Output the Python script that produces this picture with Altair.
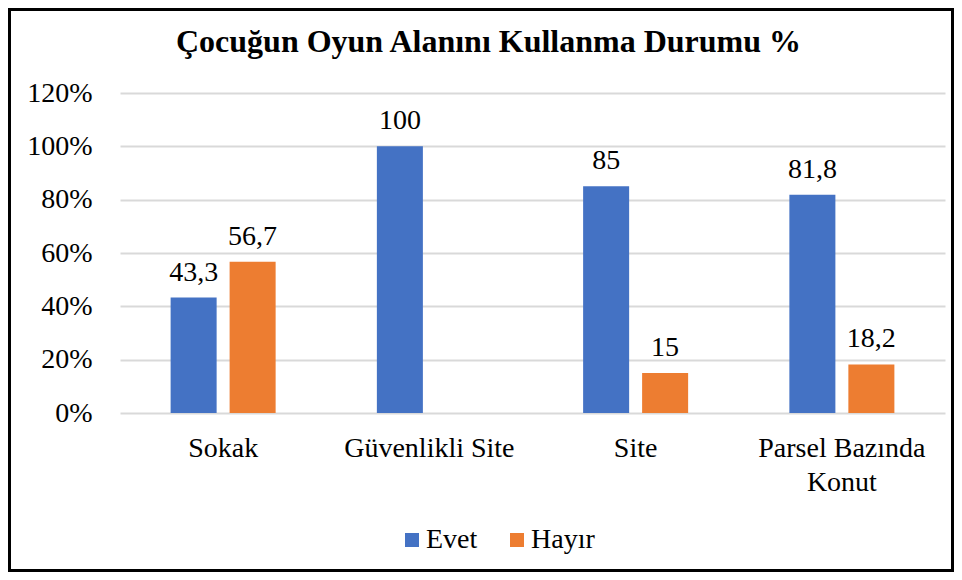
import altair as alt
import pandas as pd

categories = ["Sokak", "Güvenlikli Site", "Site", "Parsel Bazında Konut"]
series = ["Evet", "Hayır"]
evet = [43.3, 100, 85, 81.8]
hayir = [56.7, None, 15, 18.2]
y_ticks = [0, 20, 40, 60, 80, 100, 120]
colors = ["#4472C4", "#ED7D31"]
title_text = "Çocuğun Oyun Alanını Kullanma Durumu %"

rows = []
for c, e, h in zip(categories, evet, hayir):
    for s, v in zip(series, (e, h)):
        if v is not None:
            rows.append({"kategori": c, "seri": s, "deger": v,
                         "etiket": f"{v:g}".replace(".", ",")})
df = pd.DataFrame(rows)

FONT = "Liberation Serif, Times New Roman, DejaVu Serif, serif"

x_enc = alt.X(
    "kategori:N", sort=categories,
    scale=alt.Scale(domain=categories, paddingInner=0, paddingOuter=0),
    axis=alt.Axis(title=None, labelAngle=0, labelFontSize=28, labelFont=FONT,
                  labelColor="black", labelPadding=21, labelLineHeight=34,
                  ticks=False, domain=False, labelLimit=300, labelOverlap=False,
                  labelExpr="datum.label == 'Parsel Bazında Konut' ? ['Parsel Bazında', 'Konut'] : datum.label"),
)
xo_enc = alt.XOffset("seri:N", scale=alt.Scale(domain=series, paddingInner=0.22, paddingOuter=0.858))
y_enc = alt.Y(
    "deger:Q", scale=alt.Scale(domain=[0, 120], nice=False),
    axis=alt.Axis(values=y_ticks, labelExpr="datum.value + '%'", title=None,
                  grid=True, gridColor="#D9D9D9", gridWidth=2, ticks=False, domain=False,
                  labelFontSize=28, labelFont=FONT, labelColor="black", labelPadding=28),
)

base = alt.Chart(df)
bars = base.mark_bar().encode(
    x=x_enc, xOffset=xo_enc, y=y_enc,
    color=alt.Color("seri:N", scale=alt.Scale(domain=series, range=colors),
                    legend=alt.Legend(title=None, orient="none", legendX=278, legendY=433,
                                      direction="horizontal", symbolType="square",
                                      symbolSize=196, symbolStrokeWidth=0,
                                      labelFontSize=28, labelFont=FONT, labelColor="black",
                                      labelOffset=0, columnPadding=25, padding=0)),
)
labels = base.mark_text(dy=-17, baseline="alphabetic", fontSize=28, font=FONT, color="black").encode(
    x=x_enc, xOffset=xo_enc, y=y_enc, text="etiket:N"
)
frame = alt.Chart(pd.DataFrame({"k": [0]})).mark_rect(
    fillOpacity=0, fill="white", stroke="black", strokeWidth=3
).encode(
    x=alt.value(-110.5), x2=alt.value(832.5), y=alt.value(-83.5), y2=alt.value(477.5)
)

chart = alt.layer(bars, labels, frame).properties(
    width=825, height=320,
    padding={"left": 112, "top": 85, "right": 9, "bottom": 159},
    autosize=alt.AutoSizeParams(type="none"),
    title=alt.TitleParams(title_text, font=FONT, fontSize=32, fontWeight="bold",
                          color="black", anchor="middle", dx=-44, offset=-76,
                          baseline="alphabetic"),
).configure_view(stroke=None)

chart.save("out.html", embed_options={"renderer": "svg", "actions": False})
